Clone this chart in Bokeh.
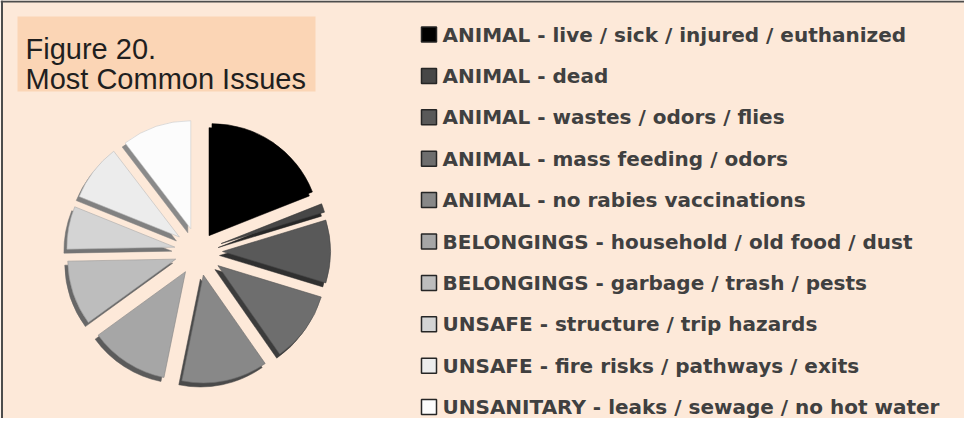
import numpy as np
from bokeh.plotting import figure
from bokeh.models import Range1d, Span
from bokeh.core.properties import value
from bokeh.embed import file_html
from bokeh.resources import INLINE

# ---- data ----
categories = [
    "ANIMAL - live / sick / injured / euthanized",
    "ANIMAL - dead",
    "ANIMAL - wastes / odors / flies",
    "ANIMAL - mass feeding / odors",
    "ANIMAL - no rabies vaccinations",
    "BELONGINGS - household / old food / dust",
    "BELONGINGS - garbage / trash / pests",
    "UNSAFE - structure / trip hazards",
    "UNSAFE - fire risks / pathways / exits",
    "UNSANITARY - leaks / sewage / no hot water",
]
shares = [19.0, 1.3, 9.4, 10.6, 12.9, 11.8, 9.7, 6.4, 8.5, 10.4]
colors = ["#000000", "#474747", "#595959", "#6e6e6e", "#888888",
          "#a6a6a6", "#bdbdbd", "#d4d4d4", "#ececec", "#fcfcfc"]
title_lines = ["Figure 20.", "Most Common Issues"]

# ---- layout ----
W, H = 964, 418
BG = "#FDE9D9"
p = figure(width=W, height=H, x_range=Range1d(0, W), y_range=Range1d(0, H),
           output_backend="svg", toolbar_location=None, min_border=0,
           x_axis_location=None, y_axis_location=None,
           background_fill_color=BG, border_fill_color=BG,
           outline_line_color=None)
p.grid.visible = False

def sy(screen_y):
    return H - (screen_y - 8)

def sx(screen_x):
    return screen_x - 8

# frame (top and left edges visible)
p.add_layout(Span(location=H - 1, dimension="width", line_color="#4d4d4d", line_width=2))
p.add_layout(Span(location=1.5, dimension="height", line_color="#4d4d4d", line_width=2))

# title box
p.quad(left=[sx(25)], right=[sx(323)], top=[sy(24)], bottom=[sy(99)],
       fill_color="#FBD5B5", line_color=None)
p.text(x=[sx(33), sx(33)], y=[sy(56), sy(86)], text=title_lines,
       text_font=value("Liberation Sans"), text_font_size="29px",
       text_baseline="alphabetic", text_color="#1f1f1f")

# pie
cx, cy = sx(206), sy(259)
R = 108
d = 24
fr = np.array(shares) / sum(shares)
cum = np.concatenate([[0], np.cumsum(fr)])
start_cw = np.radians(90 - 360 * cum[:-1])
end_cw = np.radians(90 - 360 * cum[1:])
mid = (start_cw + end_cw) / 2
xs = cx + d * np.cos(mid)
ys = cy + d * np.sin(mid)

def darken(c, f):
    c = c.lstrip("#")
    r, g, b = (int(c[i:i + 2], 16) for i in (0, 2, 4))
    return "#%02x%02x%02x" % (int(r * f), int(g * f), int(b * f))

shadow = [darken(c, 0.55) for c in colors]
p.wedge(x=xs - 3, y=ys - 4, radius=R, start_angle=end_cw, end_angle=start_cw,
        fill_color=shadow, line_color=shadow, line_width=0.5)
p.wedge(x=xs, y=ys, radius=R, start_angle=end_cw, end_angle=start_cw,
        fill_color=colors, line_color=[darken(c, 0.8) for c in colors], line_width=0.6)

# legend
n = len(categories)
row_y = [sy(42 + i * 41.4) for i in range(n)]
p.rect(x=[sx(436.5)] * n, y=row_y, width=15, height=15,
       fill_color=colors, line_color="#262626", line_width=1.5)
p.text(x=[sx(450)] * n, y=row_y, text=categories,
       text_font=value("DejaVu Sans"), text_font_style="bold", text_font_size="20px",
       text_baseline="middle", text_color="#404040")

open("out.html", "w").write(file_html(p, INLINE))
